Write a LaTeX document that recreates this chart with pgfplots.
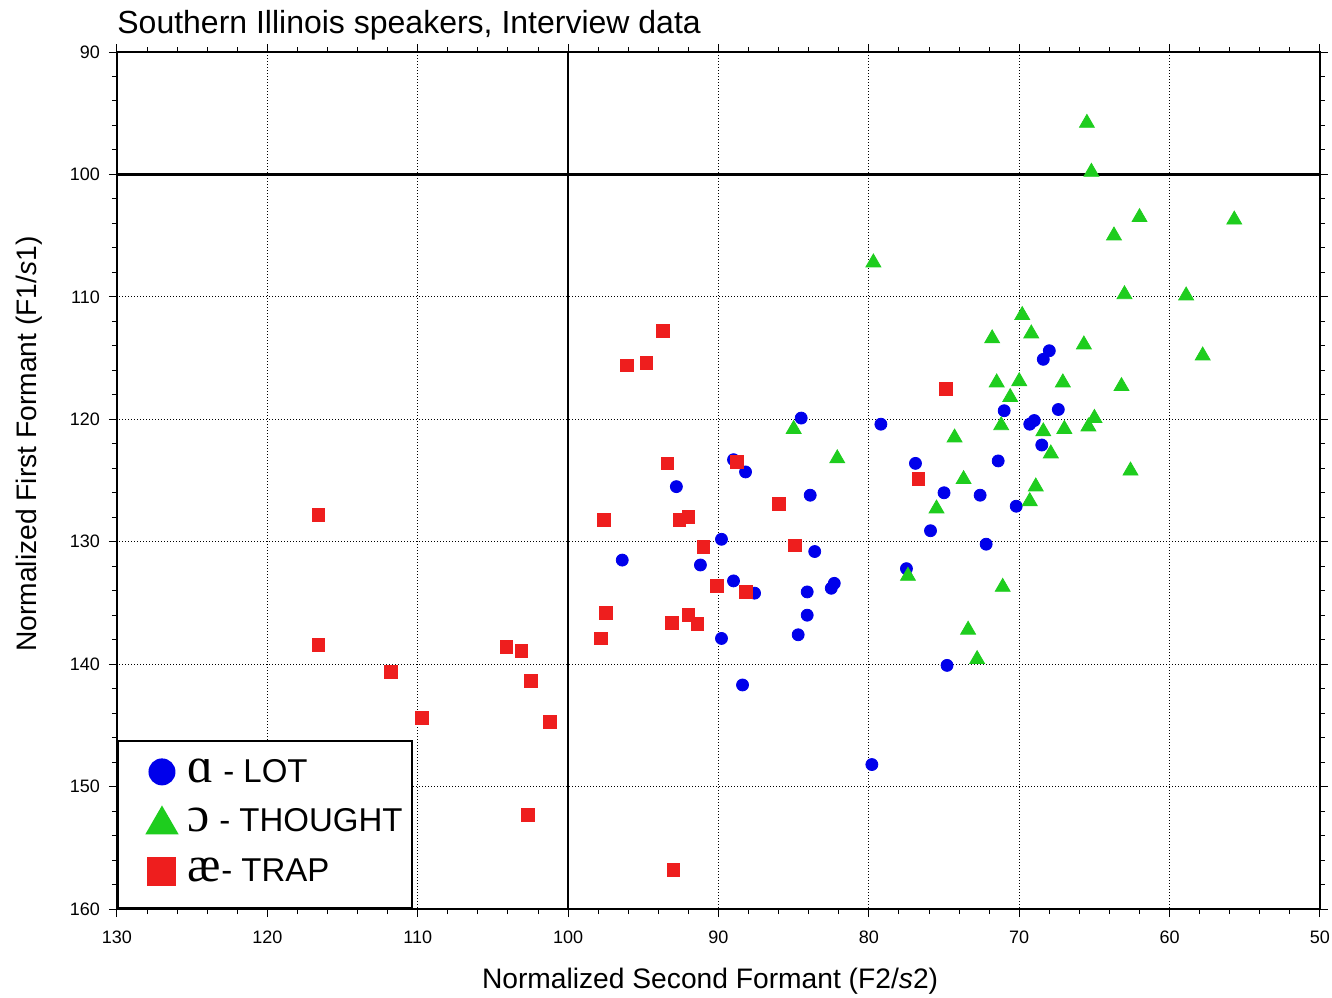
\documentclass[border=0pt]{standalone}
\usepackage{fontspec}
\setmainfont{Liberation Sans}
\newfontfamily\ipa{Liberation Serif}
\usepackage{pgfplots}
\pgfplotsset{compat=1.18}
\definecolor{lotblue}{RGB}{0,0,235}
\definecolor{thgreen}{RGB}{30,205,30}
\definecolor{trred}{RGB}{238,30,30}

\begin{document}
\begin{tikzpicture}
\begin{axis}[
  at={(0pt,0pt)}, anchor=south west,
  scale only axis,
  width=601.5pt, height=428.5pt,
  x dir=reverse, y dir=reverse,
  xmin=50, xmax=130, ymin=90, ymax=160,
  xtick={50,60,...,130}, ytick={90,100,...,160},
  minor tick num=4,
  tick align=outside,
  major tick length=4pt, minor tick length=2.5pt,
  tick style={black, line width=0.5pt},
  axis line style={black, line width=0.9pt},
  grid=major,
  major grid style={black, line width=0.5pt, dash pattern=on 0.5pt off 1pt},
  /pgf/number format/assume math mode=true,
  ticklabel style={font=\fontsize{9}{9}\selectfont},
  xticklabel style={yshift=-3.5pt},
  yticklabel style={xshift=-1pt},
  title={Southern Illinois speakers, Interview data},
  title style={at={(axis description cs:0,1)}, anchor=base west, yshift=3.5pt, inner sep=0pt, font=\fontsize{16}{16}\selectfont},
  xlabel={Normalized Second Formant (F2/\textit{s}2)},
  ylabel={Normalized First Formant (F1/\textit{s}1)},
  label style={font=\fontsize{14.1}{14.1}\selectfont},
  xlabel style={at={(axis description cs:0.493,-0.0933)}, anchor=base, inner sep=0pt},
  ylabel style={at={(axis description cs:-0.0665,0.5426)}, anchor=base, inner sep=0pt},
  legend style={at={(axis description cs:0,0)}, anchor=south west, draw=black, line width=1pt,
    font=\fontsize{16.5}{16.5}\selectfont, inner xsep=2.5pt, inner ysep=7pt, row sep=7.5pt, column sep=3pt},
  legend cell align=left,
]
\draw[black, line width=1.3pt] (axis cs:100,90) -- (axis cs:100,160);
\draw[black, line width=1.3pt] (axis cs:130,100) -- (axis cs:50,100);
\addplot[only marks, mark=*, mark size=3pt, color=lotblue,
  legend image code/.code={\path (0.35cm-19pt,0pt);\pgfsetfillcolor{lotblue}\pgfpathcircle{\pgfpoint{0.35cm}{0pt}}{6.75pt}\pgfusepath{fill}}] coordinates {
(68.0,114.4) (68.4,115.1) (71.0,119.3) (67.4,119.2) (79.2,120.4) (69.3,120.4)
(69.0,120.1) (68.5,122.1) (71.4,123.4) (76.9,123.6) (75.0,126.0) (72.6,126.2)
(70.2,127.1) (75.9,129.1) (72.2,130.2) (77.5,132.2) (84.5,119.9) (89.0,123.3)
(88.2,124.3) (92.8,125.5) (83.9,126.2) (89.8,129.8) (83.6,130.8) (96.4,131.5)
(91.2,131.9) (89.0,133.2) (87.6,134.2) (84.1,134.1) (82.3,133.4) (82.5,133.8)
(84.1,136.0) (84.7,137.6) (89.8,137.9) (74.8,140.1) (88.4,141.7) (79.8,148.2)
};
\addlegendentry{{\ipa\fontsize{25}{25}\selectfont ɑ} - LOT}
\addplot[only marks, mark=triangle*, mark size=4.3pt, color=thgreen,
  legend image code/.code={\path (0.35cm-19pt,0pt);\fill[thgreen] (0.35cm-7.5pt,-6pt) -- (0.35cm+7.5pt,-6pt) -- (0.35cm,7pt) -- cycle;}] coordinates {
(65.5,95.8) (65.2,99.8) (62.0,103.5) (55.7,103.7) (63.7,105.0) (79.7,107.2)
(63.0,109.8) (58.9,109.9) (69.8,111.5) (69.2,113.0) (71.8,113.4) (65.7,113.9)
(57.8,114.8) (67.1,117.0) (71.5,117.0) (70.0,116.9) (63.2,117.3) (70.6,118.2)
(65.0,119.9) (65.4,120.6) (71.2,120.5) (68.4,121.0) (67.0,120.8) (74.3,121.5)
(85.0,120.8) (82.1,123.2) (67.9,122.8) (62.6,124.2) (73.7,124.9) (68.9,125.5)
(75.5,127.3) (69.3,126.7) (77.4,132.8) (71.1,133.7) (73.4,137.2) (72.8,139.6)
};
\addlegendentry{{\ipa\fontsize{25}{25}\selectfont ɔ} - THOUGHT}
\addplot[only marks, mark=square*, mark size=3.2pt, color=trred,
  legend image code/.code={\path (0.35cm-19pt,-11pt);\fill[trred] (0.35cm-6.75pt,-6.75pt) rectangle (0.35cm+6.75pt,6.75pt);}] coordinates {
(93.7,112.8) (96.1,115.6) (94.8,115.4) (74.9,117.5) (93.4,123.6) (88.8,123.5)
(76.7,124.9) (86.0,126.9) (97.6,128.2) (92.6,128.2) (92.0,128.0) (91.0,130.4)
(84.9,130.3) (90.1,133.6) (88.2,134.1) (97.5,135.8) (92.0,136.0) (93.1,136.6)
(91.4,136.7) (97.8,137.9) (116.6,127.8) (116.6,138.4) (111.8,140.6) (109.7,144.4)
(104.1,138.6) (103.1,138.9) (102.5,141.4) (101.2,144.7) (102.7,152.3) (93.0,156.8)
};
\addlegendentry{{\ipa\fontsize{25}{25}\selectfont æ}- TRAP}
\end{axis}
\pgfresetboundingbox
\path[use as bounding box] (-58.5pt,-44pt) rectangle (607.5pt,454.5pt);
\end{tikzpicture}
\end{document}
